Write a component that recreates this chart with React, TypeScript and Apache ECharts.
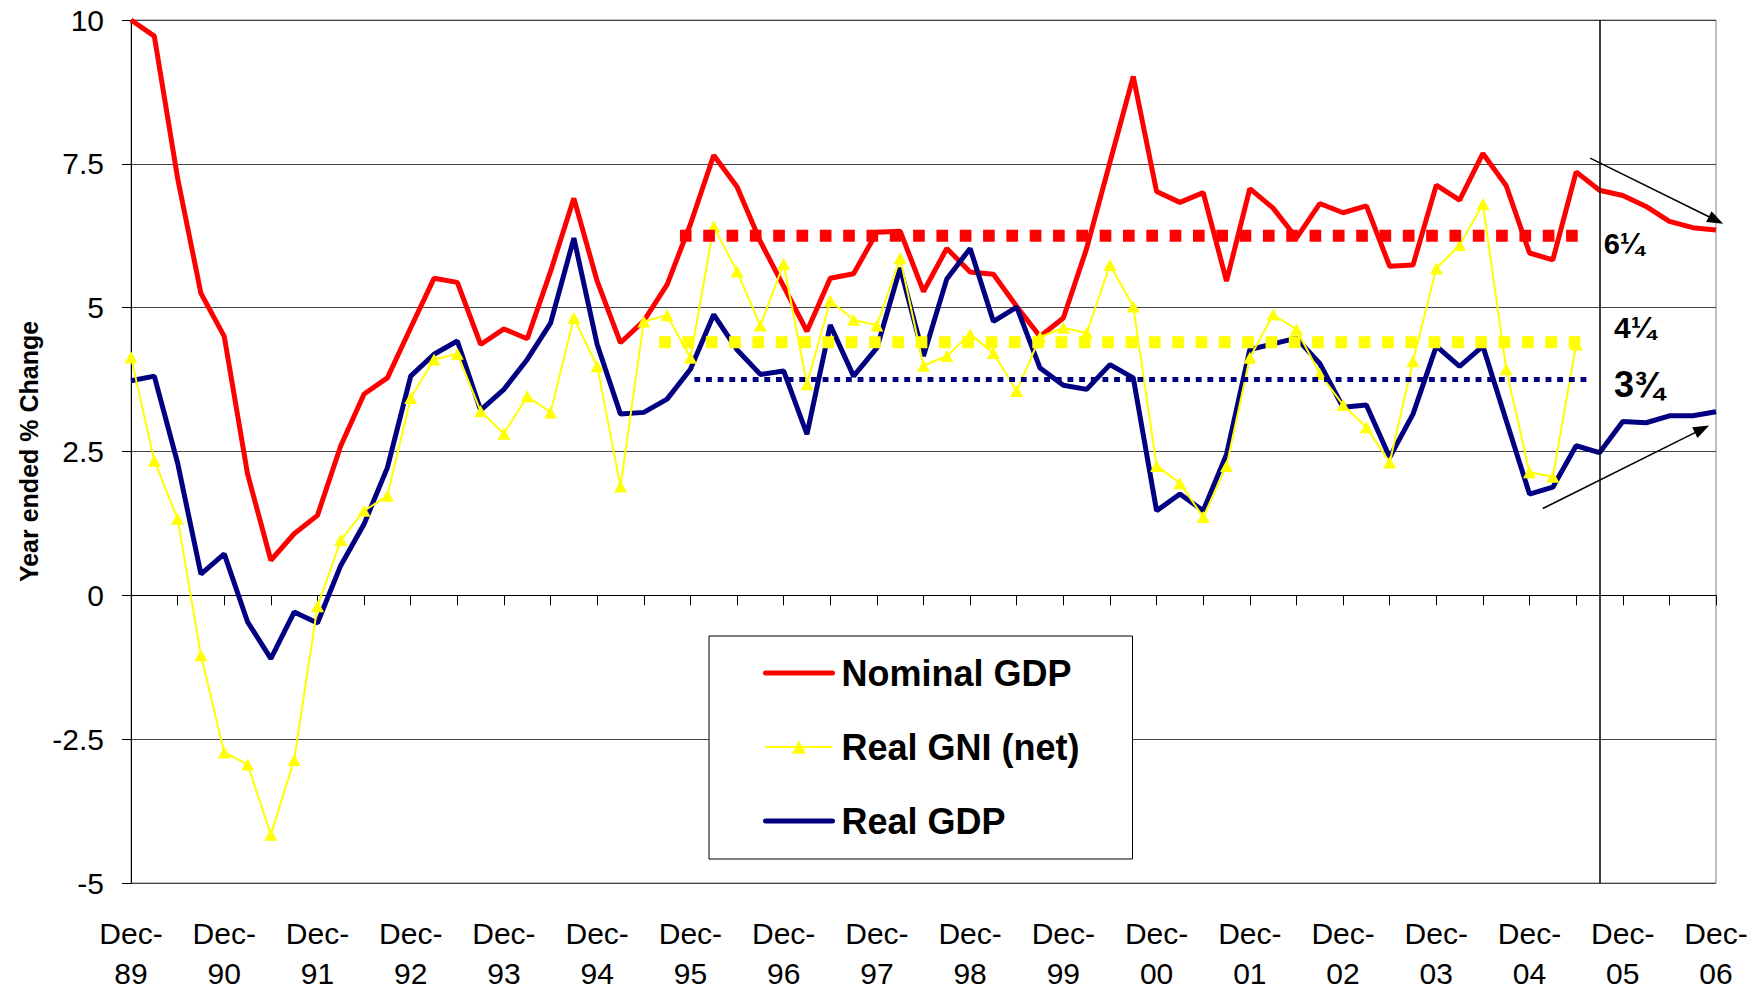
import React, { useEffect, useRef } from 'react';
import * as echarts from 'echarts';

// ---- Data (quarterly, Dec-89 = index 0 ... Dec-06 = index 68) ----
const yearLabels = ['89', '90', '91', '92', '93', '94', '95', '96', '97', '98', '99', '00', '01', '02', '03', '04', '05', '06'];

const seriesNames = ['Nominal GDP', 'Real GNI (net)', 'Real GDP'];

const nominalGDP = [
  10.0, 9.72, 7.25, 5.25, 4.5, 2.11, 0.61, 1.07, 1.39, 2.6,
  3.5, 3.78, 4.65, 5.51, 5.44, 4.36, 4.63, 4.46, 5.63, 6.9,
  5.46, 4.39, 4.77, 5.4, 6.45, 7.65, 7.1, 6.15, 5.37, 4.59,
  5.51, 5.59, 6.31, 6.33, 5.28, 6.03, 5.62, 5.58, 5.02, 4.5,
  4.82, 6.03, 7.53, 9.02, 7.02, 6.83, 7.0, 5.46, 7.07, 6.73,
  6.21, 6.81, 6.65, 6.77, 5.72, 5.74, 7.13, 6.87, 7.68, 7.12,
  5.95, 5.83, 7.36, 7.04, 6.95, 6.76, 6.5, 6.39, 6.35,
];

const realGNI = [
  4.14, 2.34, 1.33, -1.04, -2.73, -2.94, -4.16, -2.86, -0.19, 0.96,
  1.47, 1.73, 3.43, 4.1, 4.2, 3.2, 2.81, 3.46, 3.18, 4.82,
  3.98, 1.89, 4.76, 4.87, 4.13, 6.41, 5.63, 4.69, 5.76, 3.67,
  5.12, 4.79, 4.69, 5.86, 3.99, 4.16, 4.54, 4.21, 3.55, 4.49,
  4.65, 4.56, 5.74, 5.02, 2.25, 1.95, 1.36, 2.25, 4.13, 4.88,
  4.62, 3.85, 3.31, 2.92, 2.31, 4.07, 5.68, 6.09, 6.8, 3.93,
  2.14, 2.06, 4.36,
];

const realGDP = [
  3.73, 3.81, 2.3, 0.37, 0.72, -0.46, -1.1, -0.29, -0.48, 0.52,
  1.24, 2.22, 3.81, 4.19, 4.42, 3.22, 3.58, 4.1, 4.73, 6.21,
  4.36, 3.15, 3.18, 3.41, 3.93, 4.88, 4.27, 3.84, 3.9, 2.8,
  4.7, 3.81, 4.3, 5.69, 4.16, 5.5, 6.03, 4.76, 5.01, 3.95,
  3.65, 3.58, 4.01, 3.78, 1.47, 1.76, 1.47, 2.45, 4.27, 4.37,
  4.47, 4.03, 3.27, 3.31, 2.4, 3.15, 4.33, 3.98, 4.33, 3.04,
  1.76, 1.88, 2.6, 2.48, 3.02, 3.0, 3.12, 3.12, 3.19,
];

// Average lines: [start index, end index], value
const nominalAvgRange = [23.55, 62.24];
const nominalAvgValue = 6.25;
const gniAvgRange = [22.66, 62.3];
const gniAvgValue = 4.4;
const gdpAvgRange = [24.17, 62.47];
const gdpAvgValue = 3.75;

// Start of forecast period (vertical line)
const forecastStart = 63;

// Trend arrows [index, value]
const nominalTrend = [[62.6, 7.6], [68, 6.52]];
const realTrend = [[60.57, 1.51], [67.4, 2.89]];

// Average annotations
const avgLabels = ['6¼', '4¼', '3¾'];
const avgLabelCoords = [[63.16, 6.1], [63.6, 4.65], [63.6, 3.66]];
const avgLabelSizes = [29, 30, 36];

const yTicks = { min: -5, max: 10, interval: 2.5 };

const FONT = '"Liberation Sans", Arial, Helvetica, sans-serif';

const toPairs = (arr: number[]) => arr.map((v, i) => [i, v]);

function buildOption() {
  const lastIndex = nominalGDP.length - 1;
  const avgSeries = (name: string, range: number[], value: number, color: string, width: number, dash: number) => ({
    name,
    type: 'line',
    data: [[range[0], value], [range[1], value]],
    symbol: 'none',
    silent: true,
    clip: false,
    z: 6,
    lineStyle: { color, width, type: [dash, dash], cap: 'butt' },
  });

  return {
    animation: false,
    backgroundColor: '#ffffff',
    textStyle: { fontFamily: FONT },
    grid: {
      left: 131,
      right: 40,
      top: 20,
      bottom: 106,
      show: true,
      borderColor: '#808080',
      borderWidth: 1,
      backgroundColor: 'transparent',
    },
    legend: {
      orient: 'vertical',
      left: 709,
      top: 636,
      padding: [17, 53, 18, 54],
      itemGap: 34,
      itemWidth: 67,
      itemHeight: 17,
      borderColor: '#000',
      borderWidth: 1,
      backgroundColor: '#ffffff',
      selectedMode: false,
      textStyle: { fontSize: 36, fontWeight: 'bold', color: '#000', fontFamily: FONT, lineHeight: 40, padding: [0, 0, 0, 4] },
      data: [
        { name: seriesNames[0], lineStyle: { width: 5, cap: 'round' }, itemStyle: { opacity: 0, borderWidth: 0 } },
        { name: seriesNames[1], lineStyle: { width: 2 } },
        { name: seriesNames[2], lineStyle: { width: 5, cap: 'round' }, itemStyle: { opacity: 0, borderWidth: 0 } },
      ],
    },
    xAxis: [
      {
        type: 'value',
        min: 0,
        max: lastIndex,
        interval: 4,
        position: 'bottom',
        axisLine: { show: false, onZero: false },
        axisTick: { show: false },
        splitLine: { show: false },
        axisLabel: {
          formatter: (v: number) => (v % 4 === 0 ? `Dec-\n${yearLabels[v / 4]}` : ''),
          fontSize: 30,
          lineHeight: 40,
          color: '#000',
          fontFamily: FONT,
          margin: 30,
        },
      },
      {
        type: 'value',
        min: 0,
        max: lastIndex,
        interval: 2,
        position: 'top',
        axisLine: { show: true, onZero: true, lineStyle: { color: '#000', width: 1 } },
        axisTick: { show: true, inside: true, length: 10, lineStyle: { color: '#000', width: 1 } },
        axisLabel: { show: false },
        splitLine: { show: false },
      },
    ],
    yAxis: {
      type: 'value',
      min: yTicks.min,
      max: yTicks.max,
      interval: yTicks.interval,
      name: 'Year ended % Change',
      nameLocation: 'middle',
      nameGap: 89,
      nameTextStyle: { fontSize: 25, fontWeight: 'bold', color: '#000', fontFamily: FONT },
      axisLine: { show: true, onZero: false, lineStyle: { color: '#000', width: 1 } },
      axisTick: { show: true, length: 9, lineStyle: { color: '#000' } },
      axisLabel: { fontSize: 30, color: '#000', fontFamily: FONT, margin: 27, formatter: (v: number) => String(v) },
      splitLine: { show: true, lineStyle: { color: '#444444', width: 1 } },
    },
    series: [
      {
        name: seriesNames[0],
        type: 'line',
        data: toPairs(nominalGDP),
        symbol: 'none',
        clip: false,
        z: 3,
        color: '#ff0000',
        lineStyle: { color: '#ff0000', width: 5 },
        itemStyle: { color: '#ff0000' },
        markLine: {
          silent: true,
          symbol: ['none', 'none'],
          symbolSize: [12, 16],
          label: { show: false },
          lineStyle: { color: '#000', width: 1.5, type: 'solid' },
          data: [
            [{ coord: [forecastStart, yTicks.min] }, { coord: [forecastStart, yTicks.max] }],
            [{ coord: nominalTrend[0] }, { coord: nominalTrend[1], symbol: 'triangle' }],
            [{ coord: realTrend[0] }, { coord: realTrend[1], symbol: 'triangle' }],
          ],
        },
      },
      {
        name: seriesNames[1],
        type: 'line',
        data: toPairs(realGNI),
        symbol: 'triangle',
        symbolSize: [13, 12],
        showSymbol: true,
        clip: false,
        z: 5,
        color: '#ffff00',
        lineStyle: { color: '#ffff00', width: 2 },
        itemStyle: { color: '#ffff00' },
        markPoint: {
          silent: true,
          symbol: 'circle',
          symbolSize: 1,
          itemStyle: { color: 'rgba(0,0,0,0)' },
          data: avgLabels.map((t, k) => ({
            coord: avgLabelCoords[k],
            value: t,
            label: {
              show: true,
              position: 'right',
              distance: 0,
              formatter: t,
              fontSize: avgLabelSizes[k],
              fontWeight: 'bold',
              color: '#000',
              fontFamily: FONT,
            },
          })),
        },
      },
      {
        name: seriesNames[2],
        type: 'line',
        data: toPairs(realGDP),
        symbol: 'none',
        clip: false,
        z: 4,
        color: '#000080',
        lineStyle: { color: '#000080', width: 5 },
        itemStyle: { color: '#000080' },
      },
      avgSeries('avgNominal', nominalAvgRange, nominalAvgValue, '#ff0000', 12, 11.66),
      avgSeries('avgGNI', gniAvgRange, gniAvgValue, '#ffff00', 12, 11.66),
      avgSeries('avgGDP', gdpAvgRange, gdpAvgValue, '#000080', 5, 5.83),
    ],
  };
}

export default function App() {
  const ref = useRef<HTMLDivElement>(null);
  useEffect(() => {
    if (!ref.current) return;
    const chart = echarts.init(ref.current, null, { renderer: 'svg' });
    chart.setOption(buildOption() as any);
    return () => {
      chart.dispose();
    };
  }, []);
  return (
    <div
      ref={ref}
      style={{ position: 'absolute', left: 0, top: 0, width: 1756, height: 993, background: '#ffffff' }}
    />
  );
}
